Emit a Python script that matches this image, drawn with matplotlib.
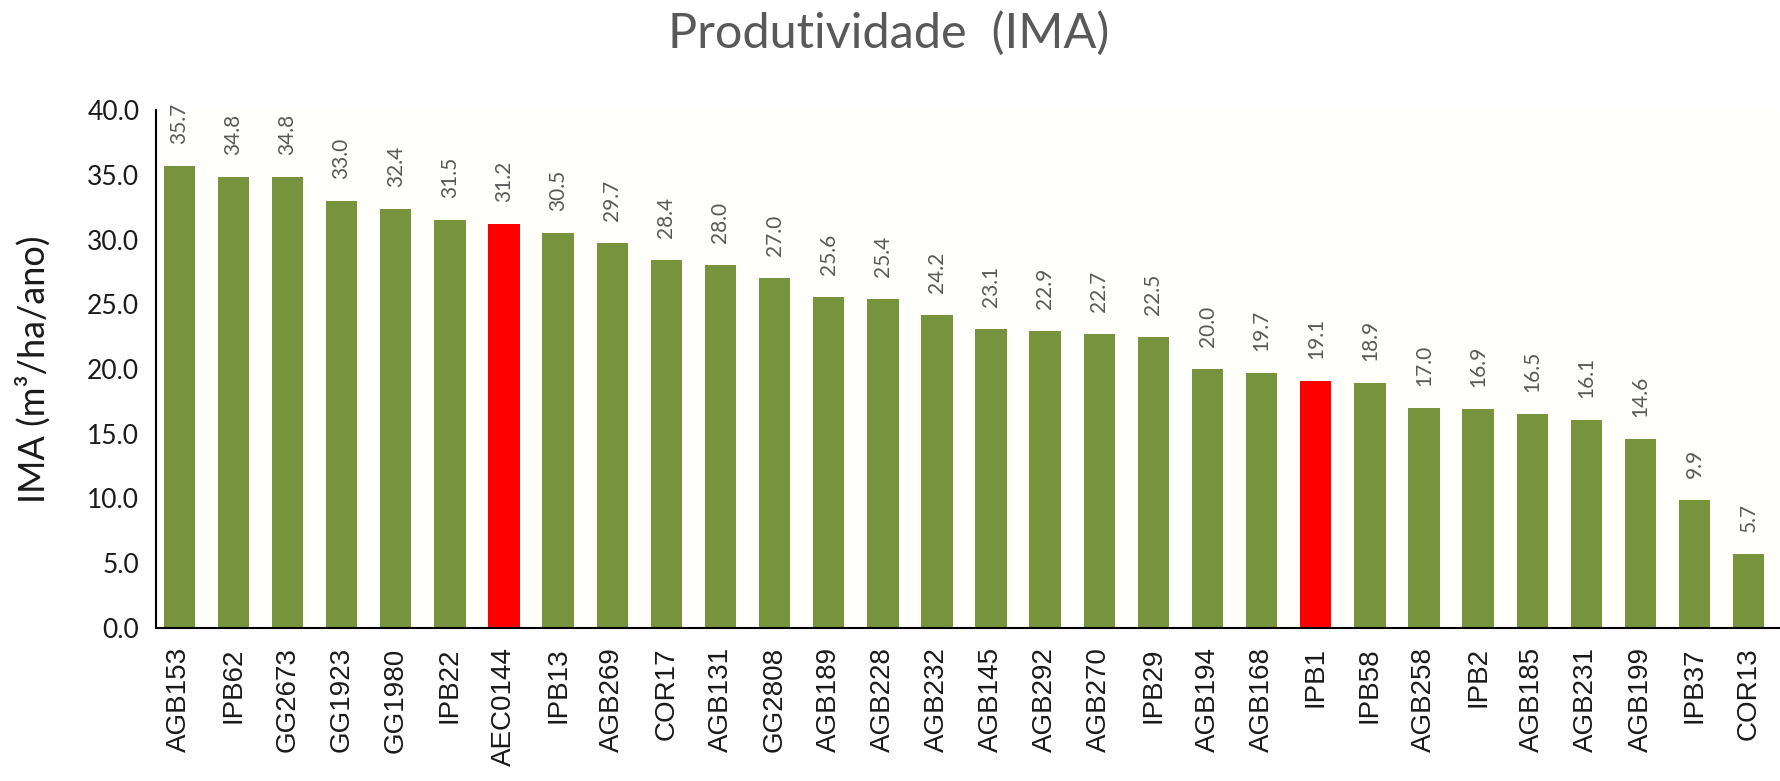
import matplotlib
matplotlib.use("Agg")
import matplotlib.pyplot as plt

categories = ["AGB153", "IPB62", "GG2673", "GG1923", "GG1980", "IPB22", "AEC0144", "IPB13",
              "AGB269", "COR17", "AGB131", "GG2808", "AGB189", "AGB228", "AGB232", "AGB145",
              "AGB292", "AGB270", "IPB29", "AGB194", "AGB168", "IPB1", "IPB58", "AGB258",
              "IPB2", "AGB185", "AGB231", "AGB199", "IPB37", "COR13"]
values = [35.7, 34.8, 34.8, 33.0, 32.4, 31.5, 31.2, 30.5, 29.7, 28.4, 28.0, 27.0, 25.6, 25.4,
          24.2, 23.1, 22.9, 22.7, 22.5, 20.0, 19.7, 19.1, 18.9, 17.0, 16.9, 16.5, 16.1, 14.6,
          9.9, 5.7]
highlighted = ["AEC0144", "IPB1"]
yticks = [0, 5, 10, 15, 20, 25, 30, 35, 40]

green = "#77933C"
red = "#FF0000"
colors = [red if c in highlighted else green for c in categories]

fig = plt.figure(figsize=(17.81, 7.81), dpi=100)
ax = fig.add_axes([0.0876, 0.196, 0.911, 0.663])
ax.set_facecolor("#FFFFFB")
x = list(range(len(categories)))
ax.bar(x, values, width=0.58, color=colors)

for xi, v in zip(x, values):
    ax.annotate(f"{v:.1f}", (xi, v), xytext=(0, 22), textcoords="offset pixels",
                rotation=90, ha="center", va="bottom", fontsize=15,
                color="#595959", family="Lato")

ax.set_xlim(-0.43, len(categories) - 0.45)
ax.set_ylim(0, 40)
ax.set_yticks(yticks)
ax.set_yticklabels([f"{t:.1f}" for t in yticks], fontsize=19, family="Lato", color="#1a1a1a")
ax.set_xticks(x)
ax.set_xticklabels(categories, rotation=90, fontsize=20, family="Liberation Sans", color="#1a1a1a")
ax.tick_params(axis="both", length=0)
ax.tick_params(axis="y", pad=12)
ax.tick_params(axis="x", pad=14)
for s in ["top", "right"]:
    ax.spines[s].set_visible(False)
for s in ["left", "bottom"]:
    ax.spines[s].set_color("black")
    ax.spines[s].set_linewidth(1.5)

ax.set_ylabel("IMA (m³/ha/ano)", fontsize=26, family="Lato", color="#1a1a1a",
              va="center", ha="center")
ax.yaxis.set_label_coords(-0.076, 0.5)
fig.text(0.499, 0.957, "Produtividade  (IMA)", ha="center", va="center", fontsize=35,
         family="Lato", color="#595959")

fig.savefig("out.png", dpi=100, facecolor="white")
